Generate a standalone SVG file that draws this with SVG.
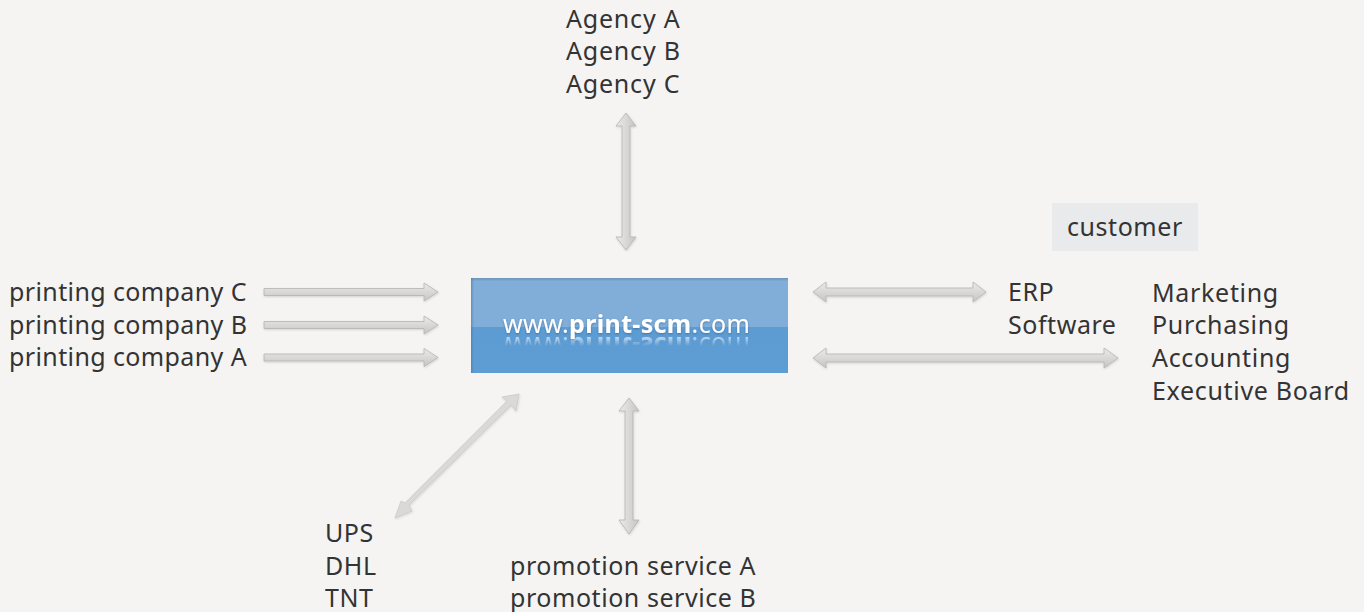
<svg xmlns="http://www.w3.org/2000/svg" width="1364" height="612" viewBox="0 0 1364 612">
<style>
text{font-family:"Noto Sans","Open Sans","Liberation Sans",sans-serif;font-size:25px;fill:#333334;letter-spacing:.55px}
.a{fill:url(#gh);stroke:#b4b3b3;stroke-width:.8;filter:url(#sh)}
.v{fill:url(#gv);stroke:#b4b3b3;stroke-width:.8;filter:url(#sh)}
.d{fill:#dad9d8;stroke:#c4c3c2;stroke-width:.6;filter:url(#sh)}
.w{font-size:25px;fill:#fff;letter-spacing:.35px}
.w tspan{font-weight:700}
#node-printing text{letter-spacing:.39px}
#node-agencies text{letter-spacing:.8px}
#node-departments text{letter-spacing:.68px}
</style>
<defs>
<linearGradient id="gh" x1="0" y1="0" x2="0" y2="1"><stop offset="0" stop-color="#ecebea"/><stop offset="1" stop-color="#c6c5c4"/></linearGradient>
<linearGradient id="gv" x1="0" y1="0" x2="1" y2="0"><stop offset="0" stop-color="#ecebea"/><stop offset="1" stop-color="#c6c5c4"/></linearGradient>
<linearGradient id="box" x1="0" y1="0" x2="0" y2="1"><stop offset="0" stop-color="#6a94b8"/><stop offset=".035" stop-color="#80aed8"/><stop offset=".513" stop-color="#80aed9"/><stop offset=".513" stop-color="#5d9cd3"/><stop offset="1" stop-color="#5e9dd4"/></linearGradient>
<linearGradient id="edge" x1="0" y1="0" x2="1" y2="0"><stop offset="0" stop-color="#3f77a8" stop-opacity=".55"/><stop offset="1" stop-color="#3f77a8" stop-opacity="0"/></linearGradient>
<linearGradient id="rf" x1="0" y1="335" x2="0" y2="346" gradientUnits="userSpaceOnUse"><stop offset="0" stop-color="#fff" stop-opacity=".75"/><stop offset="1" stop-color="#fff" stop-opacity="0"/></linearGradient>
<mask id="fade" maskUnits="userSpaceOnUse" x="470" y="335" width="320" height="14"><rect x="470" y="335" width="320" height="14" fill="url(#rf)"/></mask>
<filter id="sh" x="-10%" y="-30%" width="120%" height="170%"><feDropShadow dx="0.5" dy="1" stdDeviation="1" flood-color="#000" flood-opacity=".15"/></filter>
<filter id="ts" x="-5%" y="-20%" width="110%" height="150%"><feDropShadow dx="0" dy="1" stdDeviation="1" flood-color="#1f4f7f" flood-opacity=".5"/></filter>
</defs>
<rect width="1364" height="612" fill="#f5f4f2"/>
<g id="connectors">
<polygon class="v" points="626,113 636,126 630,126 630,237 636,237 626,250 616,237 622,237 622,126 616,126"/>
<polygon class="a" points="264,288.500 424,288.500 424,283 438,292 424,301 424,295.500 264,295.500"/>
<polygon class="a" points="264,321.500 424,321.500 424,316 438,325 424,334 424,328.500 264,328.500"/>
<polygon class="a" points="264,354 424,354 424,348.500 438,357.500 424,366.500 424,361 264,361"/>
<polygon class="a" points="813,292 826,282 826,288 973,288 973,282 986,292 973,302 973,296 826,296 826,302"/>
<polygon class="a" points="813,358 826,348 826,354 1104,354 1104,348 1118,358 1104,368 1104,362 826,362 826,368"/>
<polygon class="v" points="629,398 639,411 633,411 633,520 639,520 629,534 619,520 625,520 625,411 619,411"/>
<polygon class="d" points="519,394 516,411 511,405 409,505 412,511 395,518 401,501 405,503 507,401 502,397"/>
</g>
<g id="node-agencies"><text x="566" y="28">Agency A</text><text x="566" y="60">Agency B</text><text x="566" y="93">Agency C</text></g>
<g id="node-printing"><text x="9" y="301">printing company C</text><text x="9" y="334">printing company B</text><text x="9" y="366">printing company A</text></g>
<g id="node-center">
<rect x="471" y="278" width="317" height="95" fill="url(#box)"/>
<rect x="471" y="278" width="3" height="95" fill="url(#edge)"/>
<g mask="url(#fade)"><text class="w" transform="translate(0,670) scale(1,-1)" x="503" y="333">www.<tspan>print-scm</tspan>.com</text></g>
<text class="w" x="503" y="333" filter="url(#ts)">www.<tspan>print-scm</tspan>.com</text>
</g>
<g id="node-customer"><rect x="1052" y="203" width="146" height="48" fill="#e9eaeb"/><text x="1067" y="236">customer</text></g>
<g id="node-erp"><text x="1008" y="301">ERP</text><text x="1008" y="334">Software</text></g>
<g id="node-departments"><text x="1152" y="302">Marketing</text><text x="1152" y="334">Purchasing</text><text x="1152" y="367">Accounting</text><text x="1152" y="400">Executive Board</text></g>
<g id="node-carriers"><text x="325" y="542">UPS</text><text x="325" y="575">DHL</text><text x="325" y="607">TNT</text></g>
<g id="node-promotion"><text x="510" y="575">promotion service A</text><text x="510" y="607">promotion service B</text></g>
</svg>
